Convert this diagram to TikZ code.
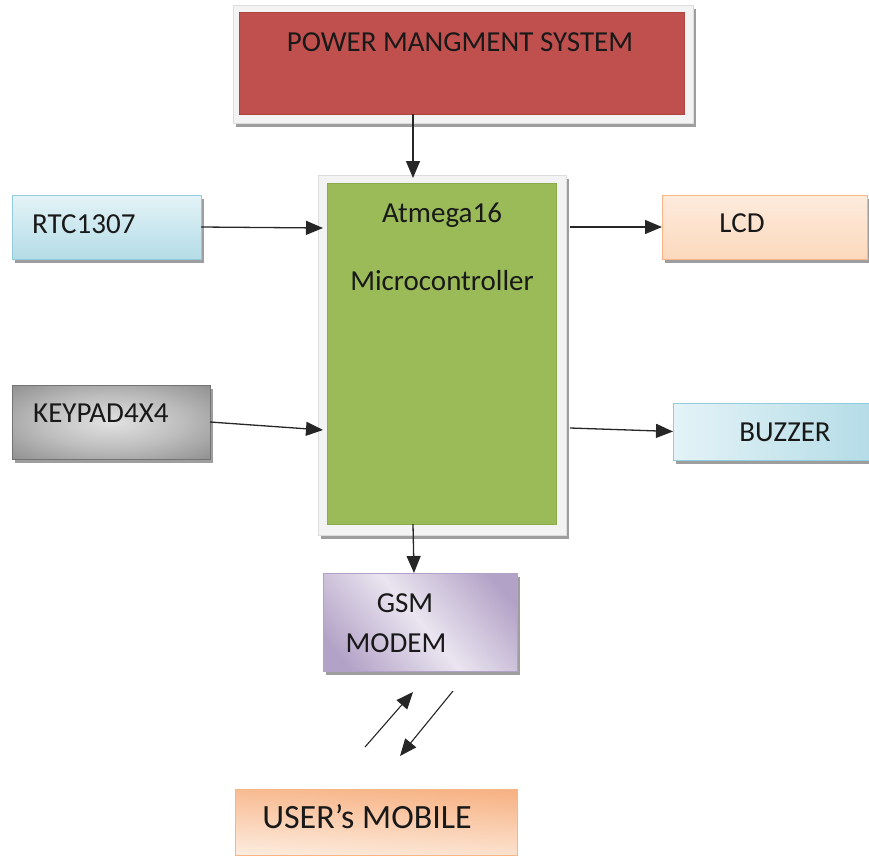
\documentclass[tikz,border=0pt]{standalone}
\usepackage{fontspec}
\setmainfont{Carlito}
\usetikzlibrary{arrows.meta,shadows,calc}
\definecolor{pmred}{HTML}{C0504D}
\definecolor{pmredd}{HTML}{B0443F}
\definecolor{frame}{HTML}{F3F3F3}
\definecolor{framed}{HTML}{DDDDDD}
\definecolor{mcgreen}{HTML}{9BBB59}
\definecolor{mcgreend}{HTML}{8CAC4C}
\definecolor{bluel}{HTML}{E4F3F7}
\definecolor{blued}{HTML}{B4DCE7}
\definecolor{blueb}{HTML}{93CDDD}
\definecolor{peachl}{HTML}{FDEBDD}
\definecolor{peachm}{HTML}{FCD9BD}
\definecolor{peachd}{HTML}{F7B283}
\definecolor{peachb}{HTML}{F8B586}
\definecolor{purl}{HTML}{EAE5F0}
\definecolor{purd}{HTML}{B3A2C7}
\definecolor{kpin}{HTML}{E2E2E2}
\definecolor{kpmid}{HTML}{BDBDBD}
\definecolor{kpout}{HTML}{5E5E5E}
\pgfdeclareradialshading{kpshade}{\pgfpoint{0bp}{0bp}}{color(0bp)=(kpin); color(18bp)=(kpmid); color(55bp)=(kpout); color(72bp)=(kpout)}
\pgfdeclarehorizontalshading{gsmshade}{100bp}{color(0bp)=(purd); color(22bp)=(purd); color(50bp)=(purl); color(78bp)=(purd); color(100bp)=(purd)}
\begin{document}
\begin{tikzpicture}[x=1pt,y=-1pt,
  box/.style={rectangle,inner sep=0pt,outer sep=0pt},
  shd/.style={drop shadow={shadow xshift=3pt,shadow yshift=-4pt,fill=black!38,opacity=1}},
  lbl/.style={font=\fontsize{29}{32}\selectfont,text=black!90,inner sep=0pt},
  arr/.style={line width=1.3pt,draw=black!85,-{Triangle[length=17pt,width=14pt]}}
]
\useasboundingbox (0,0) rectangle (869,856);

% power management
\node[box,fill=frame,draw=framed,shd,minimum width=460pt,minimum height=118pt] (pwrf) at (463,64) {};
\node[box,fill=pmred,draw=pmredd,minimum width=445pt,minimum height=102pt] (pwr) at (461.5,63) {};
\node[lbl,anchor=center] (pwrt) at (460,42) {POWER MANGMENT SYSTEM};

% microcontroller
\node[box,fill=frame,draw=framed,shd,minimum width=248pt,minimum height=360pt] (mcuf) at (442,355) {};
\node[box,fill=mcgreen,draw=mcgreend,minimum width=229pt,minimum height=341pt] (mcu) at (441.5,353.5) {};
\node[lbl,anchor=center] (mcut1) at (442,215) {Atmega16};
\node[lbl,anchor=center] (mcut2) at (442,281) {Microcontroller};

% RTC
\node[box,top color=bluel,bottom color=blued,draw=blueb,shd,minimum width=189pt,minimum height=64pt] (rtc) at (106.5,227) {};
\node[lbl,anchor=west] (rtct) at (32,224) {RTC1307};

% Keypad
\node[box,shading=kpshade,draw=black!55,shd,minimum width=198pt,minimum height=74pt] (kp) at (111,422) {};
\node[lbl,anchor=west] (kpt) at (33,413) {KEYPAD4X4};

% LCD
\node[box,top color=peachl,bottom color=peachm,draw=peachb,shd,minimum width=205pt,minimum height=64pt] (lcd) at (764.5,227) {};
\node[lbl,anchor=center] (lcdt) at (742,223) {LCD};

% Buzzer
\node[box,left color=bluel,right color=blued,draw=blueb,shd,minimum width=200pt,minimum height=57pt] (bz) at (773,431.5) {};
\node[lbl,anchor=center] (bzt) at (785,432) {BUZZER};

% GSM
\node[box,shading=gsmshade,shading angle=40,draw=purd,shd,minimum width=194pt,minimum height=98pt] (gsm) at (420,622) {};
\node[lbl,anchor=center] (gsmt1) at (405,603) {GSM};
\node[lbl,anchor=center] (gsmt2) at (396,643) {MODEM};

% User's mobile
\node[box,top color=peachd,bottom color=peachl,shading angle=-3,draw=peachb,minimum width=282pt,minimum height=66pt] (um) at (376,822) {};
\node[font=\fontsize{34}{38}\selectfont,text=black!90,inner sep=0pt,anchor=center] (umt) at (367,817) {USER’s MOBILE};

% connectors
\draw[arr] ([xshift=-48.5pt]pwr.south) -- ([xshift=-29pt,yshift=-3pt]mcuf.north);
\draw[arr] (rtc.east) -- ([xshift=5pt,yshift=127pt]mcuf.west);
\draw[arr] (kp.east) -- ([xshift=5pt,yshift=-75pt]mcuf.west);
\draw[arr] ([xshift=4pt,yshift=128pt]mcuf.east) -- (lcd.west);
\draw[arr] ([xshift=4pt,yshift=-73pt]mcuf.east) -- (bz.west);
\draw[arr] ([xshift=-28.5pt]mcu.south) -- ([xshift=-6pt]gsm.north);

\coordinate (d1s) at ($(gsm.south)+(-55,76)$);
\coordinate (d1e) at ($(gsm.south)+(-7,21)$);
\coordinate (d2s) at ($(gsm.south)+(33,20)$);
\coordinate (d2e) at ($(gsm.south)+(-20,85)$);
\draw[arr,line width=1.1pt] (d1s) -- (d1e);
\draw[arr,line width=1.1pt] (d2s) -- (d2e);
\end{tikzpicture}
\end{document}
